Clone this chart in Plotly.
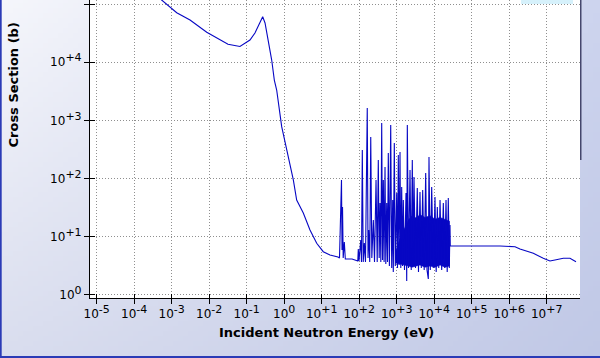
import base64
import struct
import zlib
import plotly.graph_objects as go

# ---------------- data ----------------
# smooth low-energy part
energy_smooth = [1e-5, 5.4e-4, 1.36e-3, 3.08e-3, 8.6e-3, 1.94e-2, 3.17e-2, 6.6e-2,
                 0.122, 0.166, 0.226, 0.267, 0.308, 0.377, 0.464, 0.545, 0.63,
                 0.857, 1.17, 1.75, 2.15, 3.23, 4.87, 7.36, 11.0, 16.6, 27.2]
sigma_smooth = [8.5e5, 1.17e5, 7.1e4, 5.3e4, 3.27e4, 2.4e4, 2.03e4, 1.86e4,
                2.4e4, 3.17e4, 4.97e4, 6.05e4, 4.72e4, 2.4e4, 1.09e4, 4940, 3330,
                780, 310, 94.7, 42.9, 25.6, 13.1, 7.73, 5.54, 4.87, 4.5]

# resolved resonance region
energy_res = [29.8, 33.7, 34.8, 35.9, 37.4, 40.1, 42.6, 64.3, 91.8, 94.6, 98.8,
              110, 115, 121, 128, 137, 147, 164, 172, 179, 191, 203, 217, 238,
              256, 281, 302, 323, 341, 359, 377, 398, 418, 440, 461, 488, 512,
              541, 569, 597, 638, 692, 736, 782, 811, 863, 918, 1000, 1050, 1104,
              1159, 1225, 1285, 1358, 1429, 1500, 1614, 1770, 1849, 1919, 2065,
              2264, 2438, 2606, 2754, 2891, 3170, 3540, 3811, 4178, 4529, 4932,
              5408, 5929, 6427, 6966, 7261, 7870, 8570, 9460, 10500, 11300,
              12100, 13200, 14300, 15850, 17500, 19050, 20650, 22230, 23770,
              25290, 26370, 26850]
sigma_res = [4.32, 94.6, 5.93, 32.5, 4.32, 8.14, 4.16, 4.16, 3.84, 6.17, 3.84,
             8.81, 3.69, 310, 3.69, 7.82, 3.69, 1633, 4.32, 13.1, 3.69, 519, 4.32,
             19.4, 3.69, 94.6, 3.69, 209, 4.32, 38.1, 3.69, 902, 4.0, 94.6, 3.69,
             158, 3.41, 38.1, 3.69, 275, 3.15, 834, 2.91, 42.9, 2.48, 409, 3.15,
             56.6, 2.91, 254, 3.28, 286, 2.91, 71.7, 3.15, 42.9, 2.69, 56.6, 1.74,
             834, 2.91, 141, 2.69, 209, 3.15, 106, 2.91, 68.9, 2.48, 58.9, 2.91,
             63.7, 2.69, 125, 2.69, 1.88, 235, 2.69, 71.7, 2.91, 48.3, 2.48, 32.5,
             2.91, 42.9, 2.69, 38.1, 2.91, 42.9, 2.48, 46.4, 2.91, 15.96, 6.95]

# fast-neutron region
energy_fast = [5.69e5, 1.43e6, 1.94e6, 4.4e6, 8.1e6, 1.22e7, 1.66e7, 2.77e7, 4.18e7, 6.04e7]
sigma_fast = [6.95, 6.76, 6.17, 5.2, 4.27, 3.84, 3.99, 4.27, 4.27, 3.73]

# dense unresolved band (envelope of the overlapping resonances)
band_energy = [930, 1225, 1663, 2051, 2559, 3273, 4178, 5689, 7727,
               10500, 14300, 19410, 25600]
band_upper = [5.5, 9.5, 14.5, 19.4, 23.0, 21.0, 24.0, 21.5, 23.0,
              20.0, 21.5, 20.0, 18.5]
band_lower = [3.55, 3.41, 3.28, 3.15, 3.0, 3.15, 3.28, 3.0, 3.15,
              3.0, 3.28, 3.0, 3.15]

x_tick_vals = [1e-5, 1e-4, 1e-3, 1e-2, 1e-1, 1e0, 1e1, 1e2, 1e3, 1e4, 1e5, 1e6, 1e7]
x_tick_exp = ["-5", "-4", "-3", "-2", "-1", "0", "+1", "+2", "+3", "+4", "+5", "+6", "+7"]
y_tick_vals = [1e0, 1e1, 1e2, 1e3, 1e4, 1e5]
y_tick_exp = ["0", "+1", "+2", "+3", "+4", "+5"]

x_title = "Incident Neutron Energy (eV)"
y_title = "Cross Section (b)"

# ---------------- layout helpers ----------------
W, H = 600, 358
ML, MR, MT, MB = 90, 20, 0, 60
PW, PH = W - ML - MR, H - MT - MB


def px_x(p):
    return (p - ML) / PW


def px_y(p):
    return (H - MB - p) / PH


def power_label(exp):
    return "10<sup><span style='font-size:11px'>" + exp + "</span></sup>"


def gradient_png(w, h):
    tl, tr, bl, br = (245, 246, 251), (205, 212, 238), (217, 221, 238), (192, 200, 230)
    rows = []
    for j in range(h):
        v = j / (h - 1)
        row = bytearray([0])
        for i in range(w):
            u = i / (w - 1)
            for k in range(3):
                c = (tl[k] * (1 - u) * (1 - v) + tr[k] * u * (1 - v)
                     + bl[k] * (1 - u) * v + br[k] * u * v)
                row.append(int(round(c)))
        rows.append(bytes(row))
    raw = b"".join(rows)

    def chunk(t, d):
        return (struct.pack(">I", len(d)) + t + d
                + struct.pack(">I", zlib.crc32(t + d) & 0xFFFFFFFF))

    png = (b"\x89PNG\r\n\x1a\n"
           + chunk(b"IHDR", struct.pack(">IIBBBBB", w, h, 8, 2, 0, 0, 0))
           + chunk(b"IDAT", zlib.compress(raw, 9))
           + chunk(b"IEND", b""))
    return "data:image/png;base64," + base64.b64encode(png).decode()


LINE = "#0707c4"
FONT = "DejaVu Sans"

fig = go.Figure()
fig.add_trace(go.Scatter(
    x=band_energy + band_energy[::-1],
    y=band_upper + band_lower[::-1],
    fill="toself", mode="lines", fillcolor=LINE,
    line=dict(color=LINE, width=0.6), hoverinfo="skip", showlegend=False))
fig.add_trace(go.Scatter(
    x=energy_smooth + energy_res + energy_fast,
    y=sigma_smooth + sigma_res + sigma_fast,
    mode="lines", line=dict(color=LINE, width=1.1), showlegend=False))

axis_common = dict(
    type="log", showline=True, linecolor="black", linewidth=1,
    ticks="outside", ticklen=5, tickcolor="black", tickwidth=1,
    showgrid=True, gridcolor="#8f8f8f", gridwidth=1, griddash="1px,2px",
    zeroline=False, tickfont=dict(family=FONT, size=12, color="black"),
    mirror=False,
)
fig.update_xaxes(**axis_common, range=[-5.179, 7.888], tickmode="array",
                 tickvals=x_tick_vals, ticktext=[power_label(e) for e in x_tick_exp],
                 minor=dict(ticks="inside", ticklen=4, tickcolor="black",
                            tickmode="array", tickvals=x_tick_vals, showgrid=False))
fig.update_yaxes(**axis_common, range=[-0.052, 5.069], tickmode="array",
                 tickvals=y_tick_vals, ticktext=[power_label(e) for e in y_tick_exp],
                 minor=dict(ticks="inside", ticklen=5, tickcolor="black",
                            tickmode="array", tickvals=y_tick_vals, showgrid=False))

shapes = [
    # white plotting area
    dict(type="rect", xref="paper", yref="paper", x0=0, x1=1, y0=0, y1=1,
         fillcolor="white", line=dict(width=0), layer="below"),
    # top-right legend box remnant
    dict(type="rect", xref="paper", yref="paper", x0=px_x(521), x1=px_x(573),
         y0=px_y(4), y1=px_y(-2), fillcolor="#d6f1fb", line=dict(width=0), layer="above"),
    # dark edge at the upper right of the plotting area
    dict(type="line", xref="paper", yref="paper", x0=px_x(580.8), x1=px_x(580.8),
         y0=px_y(0), y1=px_y(160), line=dict(color="#23234d", width=1.2)),
    # frame borders
    dict(type="line", xref="paper", yref="paper", x0=px_x(0.8), x1=px_x(0.8),
         y0=px_y(0), y1=px_y(358), line=dict(color="#2b3bb6", width=1.8)),
    dict(type="line", xref="paper", yref="paper", x0=px_x(0), x1=px_x(600),
         y0=px_y(357), y1=px_y(357), line=dict(color="#2b3bb6", width=2)),
]

annotations = [
    dict(text="<b>" + x_title + "</b>", xref="paper", yref="paper",
         x=px_x(326.7), y=px_y(332.5), xanchor="center", yanchor="middle",
         showarrow=False, font=dict(family=FONT, size=13, color="black")),
    dict(text="<b>" + y_title + "</b>", xref="paper", yref="paper",
         x=px_x(12.5), y=px_y(85), xanchor="center", yanchor="middle",
         textangle=-90, showarrow=False, font=dict(family=FONT, size=13, color="black")),
]

fig.update_layout(
    width=W, height=H,
    margin=dict(l=ML, r=MR, t=MT, b=MB, pad=0),
    paper_bgcolor="#dde1ef", plot_bgcolor="white",
    shapes=shapes, annotations=annotations,
    images=[dict(source=gradient_png(120, 72), xref="paper", yref="paper",
                 x=px_x(0), y=px_y(0), sizex=W / PW, sizey=H / PH,
                 xanchor="left", yanchor="top", sizing="stretch", layer="below")],
    showlegend=False,
    font=dict(family=FONT, color="black"),
)

fig.write_html("out.html", config={"displayModeBar": False},
               post_script="document.body.style.margin='0';document.body.style.overflow='hidden';")
